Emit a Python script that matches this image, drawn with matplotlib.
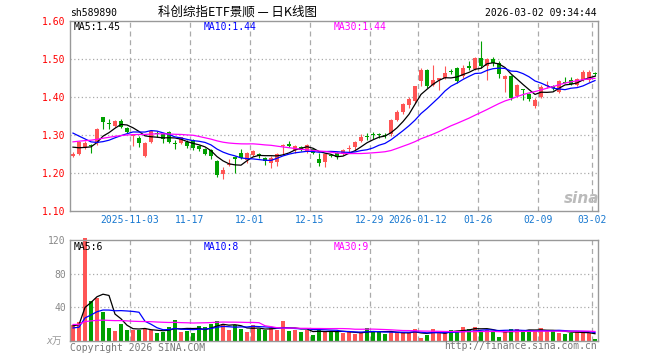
import matplotlib
matplotlib.use('Agg')
import matplotlib.pyplot as plt
import numpy as np
import pandas as pd

plt.rcParams['font.family'] = ['DejaVu Sans Mono', 'Noto Sans CJK SC']

# trading-day index of each date label
tick_pos = [10, 20, 30, 40, 50, 58, 68, 78, 87]
tick_labels = ['2025-11-03', '11-17', '12-01', '12-15', '12-29',
               '2026-01-12', '01-26', '02-09', '03-02']

opens = [1.246, 1.250, 1.267, 1.275, 1.278, 1.347, 1.330, 1.324, 1.336, 1.319,
         1.297, 1.291, 1.245, 1.282, 1.305, 1.302, 1.307, 1.279, 1.278, 1.282,
         1.287, 1.271, 1.263, 1.260, 1.231, 1.198, 1.222, 1.243, 1.253, 1.234,
         1.247, 1.250, 1.240, 1.227, 1.229, 1.270, 1.276, 1.260, 1.269, 1.256,
         1.262, 1.238, 1.229, 1.247, 1.252, 1.250, 1.263, 1.269, 1.284, 1.297,
         1.301, 1.301, 1.299, 1.302, 1.340, 1.360, 1.378, 1.390, 1.441, 1.472,
         1.432, 1.446, 1.450, 1.469, 1.477, 1.455, 1.482, 1.474, 1.503, 1.482,
         1.501, 1.490, 1.447, 1.456, 1.403, 1.420, 1.407, 1.376, 1.401, 1.428,
         1.427, 1.414, 1.439, 1.444, 1.432, 1.445, 1.445, 1.462]
highs = [1.255, 1.285, 1.283, 1.277, 1.318, 1.348, 1.342, 1.340, 1.342, 1.322,
         1.299, 1.298, 1.282, 1.312, 1.310, 1.306, 1.310, 1.287, 1.296, 1.286,
         1.290, 1.275, 1.266, 1.262, 1.233, 1.216, 1.238, 1.245, 1.262, 1.255,
         1.260, 1.253, 1.242, 1.244, 1.252, 1.277, 1.283, 1.274, 1.272, 1.277,
         1.266, 1.252, 1.251, 1.250, 1.255, 1.262, 1.275, 1.285, 1.302, 1.304,
         1.308, 1.305, 1.304, 1.342, 1.366, 1.384, 1.400, 1.430, 1.477, 1.474,
         1.483, 1.450, 1.481, 1.474, 1.480, 1.483, 1.496, 1.505, 1.548, 1.503,
         1.505, 1.494, 1.458, 1.458, 1.434, 1.421, 1.410, 1.397, 1.432, 1.441,
         1.432, 1.444, 1.452, 1.452, 1.450, 1.470, 1.470, 1.465]
lows = [1.242, 1.248, 1.262, 1.252, 1.275, 1.315, 1.315, 1.322, 1.318, 1.305,
        1.272, 1.269, 1.243, 1.280, 1.294, 1.278, 1.279, 1.262, 1.276, 1.267,
        1.260, 1.258, 1.247, 1.236, 1.190, 1.184, 1.218, 1.199, 1.238, 1.227,
        1.244, 1.240, 1.222, 1.214, 1.219, 1.247, 1.268, 1.252, 1.257, 1.253,
        1.249, 1.218, 1.216, 1.242, 1.238, 1.247, 1.254, 1.260, 1.282, 1.287,
        1.290, 1.292, 1.292, 1.298, 1.338, 1.356, 1.372, 1.385, 1.428, 1.424,
        1.430, 1.419, 1.447, 1.460, 1.437, 1.450, 1.472, 1.470, 1.476, 1.445,
        1.481, 1.450, 1.414, 1.392, 1.400, 1.392, 1.390, 1.370, 1.398, 1.425,
        1.419, 1.410, 1.436, 1.432, 1.430, 1.443, 1.440, 1.456]
closes = [1.251, 1.282, 1.280, 1.272, 1.316, 1.335, 1.328, 1.338, 1.322, 1.309,
          1.298, 1.280, 1.280, 1.310, 1.303, 1.289, 1.282, 1.277, 1.294, 1.272,
          1.265, 1.263, 1.250, 1.244, 1.194, 1.209, 1.224, 1.236, 1.240, 1.253,
          1.258, 1.245, 1.232, 1.240, 1.250, 1.272, 1.270, 1.271, 1.260, 1.273,
          1.252, 1.227, 1.249, 1.245, 1.241, 1.260, 1.265, 1.282, 1.296, 1.295,
          1.299, 1.299, 1.297, 1.340, 1.360, 1.381, 1.395, 1.428, 1.470, 1.428,
          1.446, 1.447, 1.463, 1.467, 1.441, 1.477, 1.476, 1.503, 1.481, 1.500,
          1.490, 1.461, 1.456, 1.397, 1.432, 1.419, 1.394, 1.392, 1.426, 1.430,
          1.425, 1.441, 1.437, 1.435, 1.447, 1.465, 1.467, 1.460]
volumes = [19, 23, 122, 48, 51, 34, 15.5, 11.5, 20, 12.7,
           13.5, 13.5, 14.7, 12.7, 9.5, 10.7, 16.7, 24.6, 10.7, 12,
           10, 18, 16.7, 20, 24, 20.6, 12.7, 19.4, 14.3, 10.7,
           18.6, 13.9, 13.5, 15.5, 13.5, 23.4, 11.5, 13.5, 10.7, 12.7,
           7.5, 13.5, 11.5, 12, 11.2, 9.6, 10.4, 8.4, 9.2, 15.6,
           12, 10.4, 8.4, 10.4, 10.4, 9.2, 10, 14.4, 4, 7.6,
           14.4, 10.4, 9.2, 13.2, 12.4, 16.8, 14, 16.8, 12.4, 13.2,
           11.2, 4.8, 12.4, 14.4, 14, 12.8, 12, 12, 15.2, 12,
           12.4, 10, 8.4, 10, 12, 10, 9.2, 2]

# earlier sessions (not drawn), only feed the moving averages at the left edge
hist_close = [1.23, 1.235, 1.24, 1.245, 1.25, 1.255, 1.26, 1.262, 1.265, 1.268,
              1.27, 1.275, 1.28, 1.285, 1.29, 1.295, 1.30, 1.305, 1.31, 1.29,
              1.36, 1.355, 1.35, 1.33, 1.315, 1.29, 1.275, 1.265, 1.259]
hist_vol = [18, 22, 25, 30, 28, 24, 20, 19, 23, 26, 21, 18, 17, 22, 20, 24, 19, 21, 18, 18,
            14, 12, 13, 12, 14, 16, 20, 18, 17]

ma_labels_price = ['MA5:1.45', 'MA10:1.44', 'MA30:1.44']
ma_labels_vol = ['MA5:6', 'MA10:8', 'MA30:9']

W, H = 660, 360
red, green = '#ff5555', '#00a000'
ma_colors = ['black', '#0000ff', '#ff00ff']
frame = '#999999'
grid = '#aaaaaa'


def box(x0, y0, x1, y1):
    return [x0 / W, 1 - y1 / H, (x1 - x0) / W, (y1 - y0) / H]


fig = plt.figure(figsize=(6.6, 3.6), dpi=100)
ax = fig.add_axes(box(70, 21, 598, 211))
av = fig.add_axes(box(70, 240, 598, 341))

o, h, l, c, v = (np.array(a, dtype=float) for a in (opens, highs, lows, closes, volumes))
x = np.arange(len(c))
cols = np.where(c >= o, red, green)

for a in (ax, av):
    a.set_xlim(-0.5, len(c) - 0.5)
    for t in tick_pos:
        a.axvline(t - 0.5, color=grid, lw=0.9, ls=(0, (4, 3)), zorder=0)
    for s in a.spines.values():
        s.set_color(frame)
        s.set_linewidth(1)
    a.tick_params(length=0)

# candles
ax.vlines(x, l, h, colors=cols, linewidth=0.8, zorder=2)
body = np.maximum(np.abs(c - o), 0.0027)
ax.bar(x, body, 0.8, bottom=np.minimum(o, c), color=cols, linewidth=0, zorder=2)

n = len(hist_close)
cs = pd.Series(hist_close + closes)
vs = pd.Series(hist_vol + volumes)
for win, col in zip([5, 10, 30], ma_colors):
    ax.plot(x, cs.rolling(win).mean().values[n:], color=col, lw=0.9, zorder=3)
    av.plot(x, vs.rolling(win).mean().values[n:], color=col, lw=0.9, zorder=3)

ax.set_ylim(1.10, 1.60)
for p in [1.2, 1.3, 1.4, 1.5]:
    ax.axhline(p, color=grid, lw=0.9, ls=(0, (1, 2)), zorder=0)
ax.set_yticks([1.1, 1.2, 1.3, 1.4, 1.5, 1.6])
ax.set_yticklabels(['%.2f' % t for t in [1.1, 1.2, 1.3, 1.4, 1.5, 1.6]],
                   color='red', fontsize=7)
ax.set_xticks(np.array(tick_pos) - 0.5)
ax.set_xticklabels(tick_labels, color='#1878d0', fontsize=7)
ax.tick_params(axis='y', pad=3)
ax.tick_params(axis='x', pad=3)

# volume
av.bar(x, v, 0.8, color=cols, linewidth=0, zorder=2, clip_on=False)
av.set_ylim(0, 120)
for p in [40, 80]:
    av.axhline(p, color=grid, lw=0.9, ls=(0, (1, 2)), zorder=0)
av.set_yticks([40, 80, 120])
av.set_yticklabels(['40', '80', '120'], color='#888888', fontsize=7)
av.set_xticks([])
av.tick_params(axis='y', pad=3)

# labels
for txt, col, px in zip(ma_labels_price, ma_colors, [74, 204, 334]):
    fig.text(px / W, 1 - 27 / H, txt, color=col, fontsize=7, va='center')
for txt, col, px in zip(ma_labels_vol, ma_colors, [74, 204, 334]):
    fig.text(px / W, 1 - 247 / H, txt, color=col, fontsize=7, va='center')

fig.text(70 / W, 1 - 13 / H, 'sh589890', fontsize=7, va='center')
fig.text(238 / W, 1 - 12 / H, '科创综指ETF景顺 — 日K线图', fontsize=9, ha='center',
         va='center', family=['Noto Sans CJK SC', 'DejaVu Sans'])
fig.text(597 / W, 1 - 13 / H, '2026-03-02 09:34:44', fontsize=7, ha='right', va='center')
fig.text(62 / W, 1 - 341 / H, 'x万', color='#999999', fontsize=7, ha='right', va='center',
         style='italic', family=['DejaVu Sans Mono', 'Noto Sans CJK SC'])
fig.text(70 / W, 1 - 348 / H, 'Copyright 2026 SINA.COM', color='#777777', fontsize=7, va='center')
fig.text(597 / W, 1 - 346 / H, 'http://finance.sina.com.cn', color='#777777', fontsize=7,
         ha='right', va='center')
fig.text(582 / W, 1 - 198 / H, 'sina', color='#bbbbbb', fontsize=11, ha='center', va='center',
         style='italic', weight='bold', family='DejaVu Sans')

fig.savefig('out.png', dpi=100)
